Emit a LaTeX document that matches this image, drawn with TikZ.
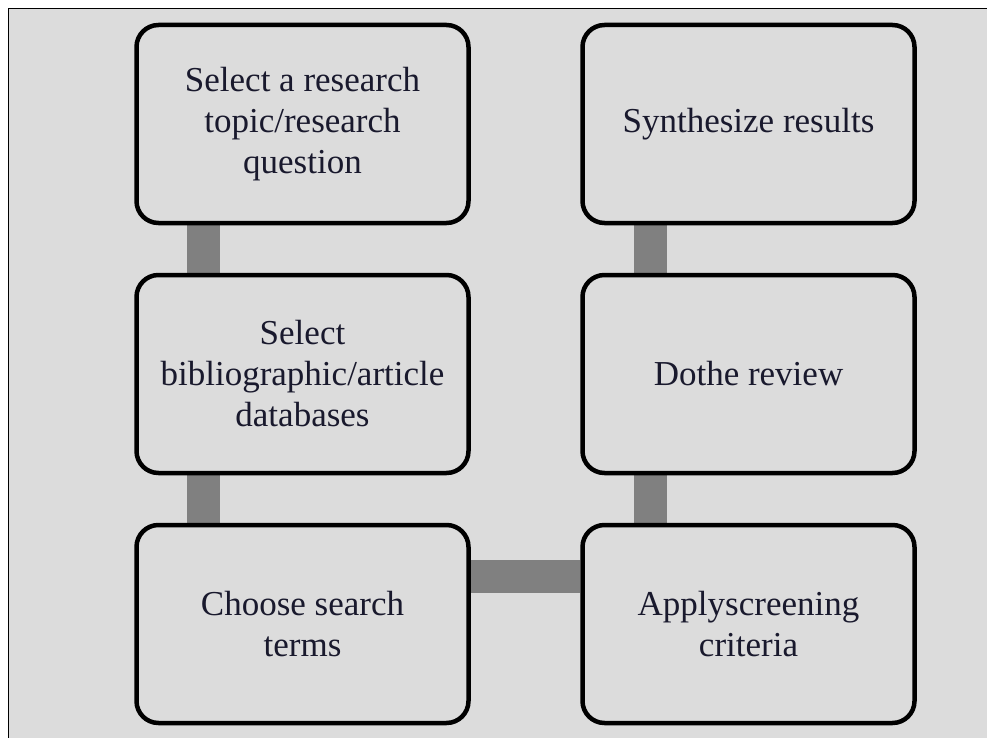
\documentclass[tikz,border=0pt]{standalone}
\usepackage{fontspec}
\setmainfont{Liberation Serif}
\usetikzlibrary{calc,backgrounds}
\definecolor{panel}{RGB}{220,220,220}
\definecolor{barc}{RGB}{128,128,128}
\definecolor{txt}{RGB}{25,25,45}
\begin{document}
\begin{tikzpicture}[x=1pt,y=-1pt,
  stepbox/.style={draw=black, line width=4.5pt, rounded corners=22pt, fill=panel,
    minimum width=332pt, minimum height=198pt, inner sep=0pt, align=center,
    text=txt, font=\fontsize{35}{41}\selectfont},
  bar/.style={draw=barc, line width=33pt}]
\useasboundingbox (0,0) rectangle (987,738);
\node[stepbox] (b1) at (302.5,124) {Select a research\\topic/research\\question};
\node[stepbox] (b2) at (302.5,374) {Select\\bibliographic/article\\databases};
\node[stepbox] (b3) at (302.5,624) {Choose search\\terms};
\node[stepbox] (b4) at (748.5,124) {Synthesize results};
\node[stepbox] (b5) at (748.5,374) {Dothe review};
\node[stepbox] (b6) at (748.5,624) {Applyscreening\\criteria};
\begin{scope}[on background layer]
\fill[white] (0,0) rectangle (987,738);
\fill[panel] (8.5,8.5) rectangle (987,738);
\draw[line width=1.6pt] (987,8.5) -- (8.5,8.5) -- (8.5,738);
\draw[bar] ($(b1.south west)+(69,0)$) -- ($(b2.north west)+(69,0)$);
\draw[bar] ($(b2.south west)+(69,0)$) -- ($(b3.north west)+(69,0)$);
\draw[bar] ($(b3.east)+(0,-48)$) -- ($(b6.west)+(0,-48)$);
\draw[bar] ($(b6.north west)+(70,0)$) -- ($(b5.south west)+(70,0)$);
\draw[bar] ($(b5.north west)+(70,0)$) -- ($(b4.south west)+(70,0)$);
\end{scope}
\end{tikzpicture}
\end{document}
